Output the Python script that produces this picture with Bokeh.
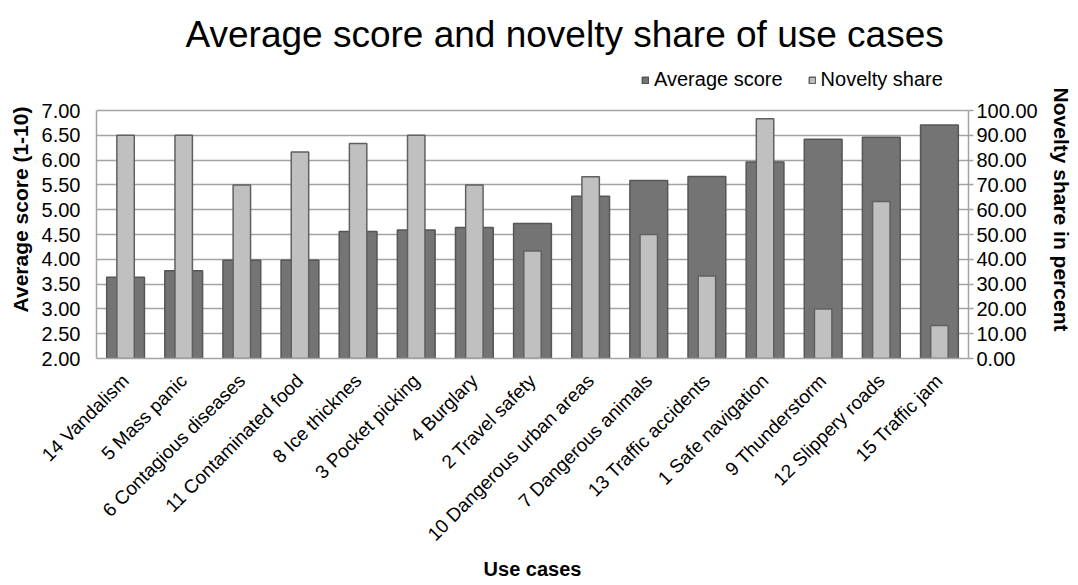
from bokeh.plotting import figure
from bokeh.models import (FactorRange, Range1d, LinearAxis, FixedTicker, NumeralTickFormatter,
                          Legend, LegendItem, ColumnDataSource)
from bokeh.embed import file_html
from bokeh.resources import INLINE
from math import pi

categories = ["14 Vandalism", "5 Mass panic", "6 Contagious diseases", "11 Contaminated food",
              "8 Ice thicknes", "3 Pocket picking", "4 Burglary", "2 Travel safety",
              "10 Dangerous urban areas", "7 Dangerous animals", "13 Traffic accidents",
              "1 Safe navigation", "9 Thunderstorm", "12 Slippery roads", "15 Traffic jam"]
avg_score = [3.64, 3.77, 3.98, 3.98, 4.56, 4.59, 4.64, 4.72, 5.27, 5.59, 5.67, 5.96, 6.42, 6.46, 6.71]
novelty_share = [90.0, 90.0, 70.0, 83.3, 86.7, 90.0, 70.0, 43.3, 73.3, 50.0, 33.3, 96.7, 20.0, 63.3, 13.3]
left_ticks = [2.0, 2.5, 3.0, 3.5, 4.0, 4.5, 5.0, 5.5, 6.0, 6.5, 7.0]
right_ticks = [0, 10, 20, 30, 40, 50, 60, 70, 80, 90, 100]

FONT = "Liberation Sans"
GRID = "#a3a3a3"

# layout geometry (pixels)
FRAME_TOP, AXIS_TOP, AXIS_BOTTOM = 60, 110, 358
L_MIN, L_MAX = left_ticks[0], left_ticks[-1]
R_MIN, R_MAX = right_ticks[0], right_ticks[-1]
extra = (AXIS_TOP - FRAME_TOP) / (AXIS_BOTTOM - AXIS_TOP)   # headroom above the axes for the legend

src = ColumnDataSource(dict(cat=categories, avg=avg_score, nov=novelty_share))

p = figure(width=1078, height=585, x_range=FactorRange(*categories, range_padding=0),
           y_range=Range1d(L_MIN, L_MAX + extra * (L_MAX - L_MIN)),
           output_backend="svg", toolbar_location=None,
           min_border_left=96, min_border_right=110, min_border_top=FRAME_TOP,
           min_border_bottom=585 - AXIS_BOTTOM)
p.extra_y_ranges = {"right": Range1d(R_MIN, R_MAX + extra * (R_MAX - R_MIN))}
p.outline_line_color = None
p.background_fill_color = "white"
p.border_fill_color = "white"

r_avg = p.vbar(x="cat", top="avg", bottom=L_MIN, width=0.65, source=src,
               fill_color="#747474", line_color="#565656", line_width=1.5)
r_nov = p.vbar(x="cat", top="nov", bottom=R_MIN, width=0.3, source=src, y_range_name="right",
               fill_color="#c0c0c0", line_color="#606060", line_width=1.5)

# grid
p.xgrid.grid_line_color = None
p.ygrid.grid_line_color = GRID
p.ygrid.grid_line_width = 1.5
p.ygrid.ticker = FixedTicker(ticks=left_ticks)

# left axis
ya = p.yaxis[0]
ya.bounds = (L_MIN, L_MAX)
ya.ticker = FixedTicker(ticks=left_ticks)
ya.formatter = NumeralTickFormatter(format="0.00")
ya.axis_label = "Average score (1-10)"
ya.axis_label_text_font = FONT
ya.axis_label_text_font_size = "21px"
ya.axis_label_text_font_style = "bold"
ya.axis_label_text_color = "black"
ya.axis_label_standoff = 7
ya.major_label_text_font = FONT
ya.major_label_text_font_size = "20px"
ya.major_label_text_color = "black"
ya.major_label_standoff = 16
ya.axis_line_color = GRID
ya.axis_line_width = 1.5
ya.major_tick_line_color = GRID
ya.major_tick_out = 0
ya.major_tick_in = 0
ya.minor_tick_line_color = None

# right axis
ra = LinearAxis(y_range_name="right", ticker=FixedTicker(ticks=right_ticks),
                formatter=NumeralTickFormatter(format="0.00"), bounds=(R_MIN, R_MAX))
ra.axis_label = "Novelty share in percent"
ra.axis_label_text_font = FONT
ra.axis_label_text_font_size = "21px"
ra.axis_label_text_font_style = "bold"
ra.axis_label_text_color = "black"
ra.axis_label_standoff = 9
ra.major_label_text_font = FONT
ra.major_label_text_font_size = "20px"
ra.major_label_text_color = "black"
ra.major_label_standoff = 3
ra.axis_line_color = GRID
ra.axis_line_width = 1.5
ra.major_tick_line_color = GRID
ra.major_tick_line_width = 1.5
ra.major_tick_out = 5
ra.major_tick_in = 0
ra.minor_tick_line_color = None
p.add_layout(ra, "right")

# x axis
xa = p.xaxis[0]
xa.major_label_orientation = pi / 4
xa.major_label_text_font = FONT
xa.major_label_text_font_size = "19px"
xa.major_label_text_color = "black"
xa.major_label_standoff = 13
xa.axis_label = "Use cases"
xa.axis_label_text_font = FONT
xa.axis_label_text_font_size = "20px"
xa.axis_label_text_font_style = "bold"
xa.axis_label_text_color = "black"
xa.axis_label_standoff = 3
xa.axis_line_color = GRID
xa.axis_line_width = 1.5
xa.major_tick_line_color = None
xa.minor_tick_line_color = None

# legend in the headroom above the axes
legend = Legend(items=[LegendItem(label="Average score", renderers=[r_avg]),
                       LegendItem(label="Novelty share", renderers=[r_nov])],
                orientation="horizontal", location=(545, 267),
                glyph_width=8, glyph_height=8, label_height=20, label_standoff=5,
                spacing=25, padding=0, margin=0,
                label_text_font=FONT, label_text_font_size="20px", label_text_color="black",
                background_fill_alpha=0, border_line_color=None)
p.add_layout(legend)

# title
p.title.text = "Average score and novelty share of use cases"
p.title.text_font = FONT
p.title.text_font_size = "37px"
p.title.text_font_style = "normal"
p.title.text_color = "black"
p.title.align = "left"
p.title.offset = 89
p.title.standoff = 12

open("out.html", "w").write(file_html(p, INLINE))
